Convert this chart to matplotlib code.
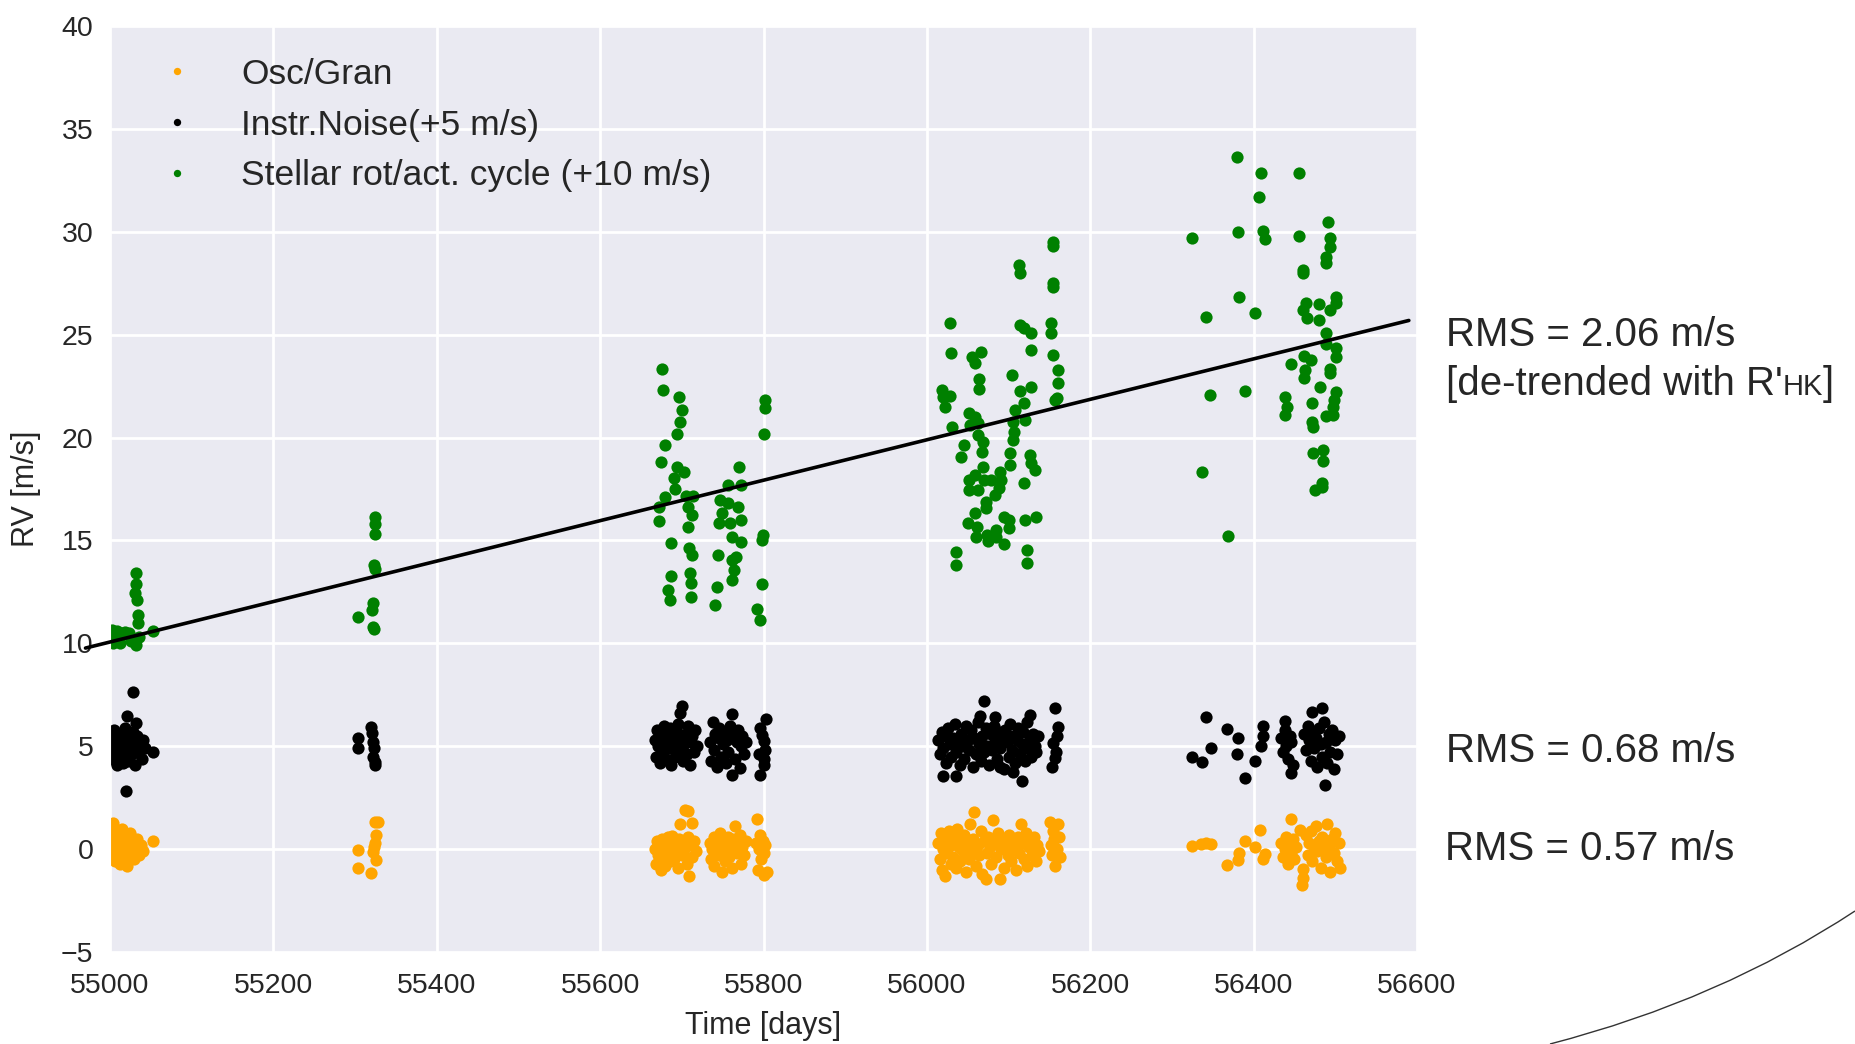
#!/usr/bin/env python3
"""RV noise budget: oscillation/granulation, instrument noise and stellar activity."""

import matplotlib
matplotlib.use('Agg')
import matplotlib.pyplot as plt
import seaborn as sns
from matplotlib.path import Path
from matplotlib.patches import PathPatch

# ---- data (times in days, RV in m/s, offsets added at plot time) ----
NOISE_OFFSET = 5.0
ACT_OFFSET = 10.0

osc_t = [
    # 2009
    55002, 55003, 55004, 55005, 55006, 55007, 55008, 55010, 55011, 55012,
    55014, 55015, 55017, 55018, 55019, 55021, 55022, 55024, 55025, 55027,
    55029, 55031, 55033, 55035, 55038, 55041, 55053,
    # 2010
    55304, 55304, 55319, 55322, 55323, 55324, 55325, 55326, 55326, 55328,
    # 2011
    55667, 55668, 55670, 55671, 55673, 55674, 55676, 55677, 55679, 55680,
    55682, 55683, 55685, 55686, 55688, 55689, 55691, 55692, 55694, 55695,
    55697, 55698, 55700, 55701, 55703, 55704, 55706, 55707, 55708, 55709,
    55711, 55712, 55713, 55715, 55717,
    55734, 55736, 55737, 55739, 55740, 55742, 55744, 55745, 55747, 55748,
    55749, 55751, 55753, 55754, 55756, 55758, 55759, 55761, 55762, 55764,
    55765, 55767, 55769, 55771, 55772, 55774, 55776, 55778,
    55791, 55792, 55793, 55795, 55796, 55797, 55799, 55800, 55801, 55802, 55804,
    # 2012
    56014, 56016, 56017, 56019, 56020, 56022, 56024, 56025, 56027, 56029,
    56030, 56032, 56034, 56036, 56037, 56039, 56041, 56042, 56044, 56046,
    56048, 56050, 56051, 56053, 56055, 56057, 56058, 56060, 56062, 56064,
    56066, 56068, 56070, 56072, 56074, 56075, 56077, 56079, 56081, 56083,
    56085, 56087, 56089, 56091, 56093, 56095, 56097, 56099, 56101, 56103,
    56105, 56107, 56109, 56111, 56113, 56115, 56117, 56119, 56121, 56123,
    56125, 56127, 56129, 56131, 56133, 56135, 56137,
    56151, 56152, 56153, 56155, 56156, 56157, 56159, 56160, 56162, 56163,
    # 2013
    56324, 56336, 56342, 56348, 56368, 56381, 56382, 56390, 56402, 56408,
    56411, 56414, 56446, 56457, 56461, 56461, 56459,
    56434, 56436, 56438, 56440, 56442, 56444, 56446, 56448, 56450, 56452,
    56464, 56466, 56468, 56470, 56472, 56474, 56476, 56478, 56480, 56482,
    56484, 56486, 56488, 56490, 56492, 56494, 56496, 56498, 56500, 56502,
    56504, 56506,
]
osc_rv = [
    0.6, -0.2, 1.25, 0.3, -0.6, 0.9, 0.1, -0.3, 0.5, -0.7,
    0.2, 1.0, -0.4, 0.6, 0.0, -0.8, 0.3, 0.8, -0.2, 0.4,
    -0.5, 0.1, 0.5, -0.3, 0.2, -0.1, 0.4,
    -0.05, -0.9, -1.15, -0.15, 0.1, 0.3, 1.3, 0.7, -0.55, 1.3,
    0.0, -0.7, 0.4, -0.3, 0.2, -1.0, 0.5, -0.4, 0.1, -0.8,
    0.3, 0.6, -0.2, -0.6, 0.65, 0.0, -0.5, 0.4, 0.2, -0.9,
    0.5, 1.2, -0.3, 0.3, 0.0, 1.9, -0.7, 0.6, 1.85, -1.3,
    0.2, -0.4, 1.25, 0.4, -0.1,
    0.3, -0.5, 0.0, 0.6, -0.8, 0.2, -0.3, 0.5, 0.8, -0.1,
    -1.1, 0.3, -0.6, 0.1, 0.6, -0.4, 0.4, -0.9, 0.0, 0.5,
    1.1, -0.2, 0.3, 0.7, -0.7, 0.1, -0.3, 0.4,
    0.3, 1.45, -1.0, 0.0, 0.7, -0.5, 0.4, -0.2, -1.25, 0.2, -1.1,
    0.3, -0.5, 0.8, -1.0, 0.0, -1.3, 0.5, -0.2, 0.9, -0.7,
    0.2, -0.4, 0.6, -0.9, 1.0, 0.1, -0.6, 0.4, -0.1, 0.7,
    -1.1, 0.3, -0.5, 1.2, 0.0, 0.5, 1.8, -0.8, 0.2, -0.3,
    0.9, -1.2, 0.4, -1.45, -0.2, 0.6, 0.1, -0.7, 1.4, 0.3,
    -0.4, 0.8, -1.45, 0.0, 0.5, -0.9, 0.2, -0.3, 0.7, -0.6,
    0.4, 0.0, -1.0, 0.6, -0.2, 1.2, 0.3, -0.5, 0.8, -0.8,
    0.1, 0.5, -0.3, 0.6, -0.6, 0.2, -0.1,
    1.3, 0.2, -0.3, 0.9, 0.5, -0.8, 0.0, 1.2, 0.6, -0.4,
    0.16, 0.24, 0.32, 0.27, -0.78, -0.54, -0.21, 0.4, 0.08, 0.92,
    -0.49, -0.25, 1.46, 0.92, -0.98, -1.38, -1.74,
    0.3, -0.4, 0.0, 0.6, -0.7, 0.2, -0.2, 0.5, -0.5, 0.1,
    0.7, -0.3, 0.3, 0.9, -0.6, 0.1, 1.1, -0.1, 0.4, -0.9,
    0.6, 0.0, -0.4, 1.2, 0.2, -1.1, 0.5, -0.2, 0.8, -0.6,
    0.3, -0.9,
]

noise_t = [
    55002, 55003, 55004, 55005, 55006, 55008, 55009, 55010, 55012, 55013,
    55015, 55016, 55018, 55019, 55021, 55022, 55024, 55025, 55027, 55028,
    55030, 55031, 55033, 55035, 55037, 55039, 55041, 55043,
    55028, 55021, 55032, 55053, 55020,
    55304, 55304, 55320, 55321, 55322, 55323, 55322, 55324, 55325,
    55667, 55668, 55670, 55671, 55673, 55675, 55676, 55678, 55679, 55681,
    55682, 55684, 55686, 55687, 55689, 55690, 55692, 55694, 55695, 55697,
    55698, 55700, 55700, 55702, 55703, 55705, 55706, 55708, 55710, 55711,
    55713, 55715, 55716, 55718,
    55734, 55736, 55738, 55739, 55741, 55743, 55745, 55746, 55748, 55750,
    55752, 55754, 55755, 55757, 55759, 55761, 55761, 55763, 55765, 55767,
    55769, 55771, 55772, 55774, 55776, 55778,
    55803, 55796, 55800, 55802, 55794, 55800, 55796, 55798, 55801,
    56014, 56016, 56018, 56020, 56022, 56024, 56026, 56028, 56030, 56032,
    56034, 56036, 56038, 56040, 56042, 56044, 56046, 56048, 56050, 56052,
    56054, 56056, 56058, 56060, 56062, 56064, 56066, 56068, 56070, 56072,
    56074, 56076, 56078, 56080, 56082, 56084, 56086, 56088, 56090, 56092,
    56094, 56096, 56098, 56100, 56102, 56104, 56106, 56108, 56110, 56112,
    56114, 56116, 56118, 56120, 56122, 56124, 56126, 56128, 56130, 56132,
    56134, 56136,
    56070, 56126, 56020, 56036, 56117, 56090, 56105, 56084, 56065,
    56157, 56161, 56159, 56155, 56158, 56157, 56153,
    56342, 56368, 56381, 56348, 56324, 56337, 56380, 56402, 56390, 56412,
    56412, 56409, 56438, 56446, 56471, 56484, 56487,
    56434, 56436, 56438, 56440, 56442, 56444, 56446, 56448, 56462, 56464,
    56466, 56468, 56470, 56472, 56474, 56476, 56478, 56480, 56482, 56484,
    56486, 56488, 56490, 56492, 56494, 56496, 56498, 56500, 56502, 56504,
]
noise_rv = [
    0.5, -0.6, 0.1, 0.8, -0.3, 0.4, -0.9, 0.0, 0.6, -0.5,
    0.2, -0.8, 0.9, -0.2, 0.3, -0.7, 0.5, 0.0, -0.4, 0.7,
    -0.9, 0.2, 0.5, -0.3, 0.1, -0.6, 0.3, -0.1,
    2.65, 1.47, 1.12, -0.26, -2.2,
    0.4, -0.1, 0.94, 0.65, 0.2, -0.1, -0.5, -0.75, -0.9,
    0.3, -0.5, 0.8, 0.0, -0.8, 0.5, -0.3, 1.0, 0.2, -0.6,
    0.6, -0.1, 0.9, -0.9, 0.3, 0.0, -0.5, 0.7, 1.1, -0.2,
    1.6, 1.94, 0.4, -0.7, 0.1, 0.6, -0.4, 1.0, -0.9, 0.2,
    0.5, -0.3, 0.8, 0.0,
    0.2, -0.7, 1.2, -0.2, 0.6, -1.0, 0.4, 0.9, -0.5, 0.1,
    0.7, -0.8, 0.3, -0.3, 1.0, 1.55, -1.4, 0.5, -0.6, 0.2,
    0.8, -1.05, 0.0, 0.5, -0.4, 0.2,
    1.3, 0.89, 0.24, -0.16, -0.4, -0.89, -1.38, 0.55, -0.6,
    0.3, -0.4, 0.7, -0.1, 0.5, -0.8, 0.9, 0.1, -0.5, 0.4,
    1.1, -0.3, 0.2, -0.9, 0.6, 0.0, -0.6, 1.0, 0.3, -0.2,
    0.8, -1.0, 0.4, -0.4, 1.2, 0.1, -0.7, 0.5, -0.3, 0.9,
    0.0, -0.9, 0.6, -0.2, 1.0, 0.3, -0.6, 0.7, -0.1, 0.4,
    -1.1, 0.8, 0.2, -0.5, 1.1, -0.2, 0.5, -0.8, 0.3, 0.9,
    -0.4, 0.1, 0.7, -0.7, 1.2, -0.1, 0.4, -0.5, 0.6, 0.0,
    -0.3, 0.5,
    2.21, 1.53, -1.44, -1.44, -1.68, -1.0, -1.23, 1.4, 1.48,
    1.88, 0.91, 0.5, 0.18, -0.3, -0.55, -1.03,
    1.43, 0.83, 0.38, -0.1, -0.52, -0.79, -0.39, -0.74, -1.55, 0.99,
    0.5, 0.02, 1.23, -1.28, 1.64, 1.88, -1.88,
    0.4, -0.3, 0.8, 0.0, -0.6, 0.5, 0.2, -0.9, 0.6, -0.2,
    1.0, 0.3, -0.7, 0.7, -0.1, 0.4, -1.0, 0.9, 0.1, -0.5,
    1.2, 0.2, -0.8, 0.6, -0.3, 0.8, -1.1, 0.3, -0.4, 0.5,
]

act_t = [
    55032, 55032, 55030, 55033, 55034, 55034, 55053, 55002, 55007, 55012,
    55004, 55018, 55023, 55027, 55032, 55015, 55026, 55036, 55009,
    55325, 55325, 55324, 55323, 55324, 55322, 55321, 55304, 55322, 55323,
    55676, 55677, 55696, 55700, 55698, 55694, 55679, 55674, 55694, 55703,
    55690, 55692, 55679, 55672, 55672, 55705, 55714, 55707, 55713, 55708,
    55687, 55709, 55712, 55687, 55710, 55711, 55683, 55685, 55711, 55756,
    55747, 55757, 55749, 55745, 55759, 55769, 55770, 55772, 55773, 55761,
    55773, 55744, 55766, 55761, 55764, 55762, 55743, 55741, 55802, 55802,
    55800, 55799, 55798, 55798, 55792, 55796,
    56028, 56029, 56018, 56020, 56028, 56022, 56031, 56055, 56066, 56059,
    56064, 56064, 56051, 56059, 56053, 56063, 56063, 56069, 56045, 56042,
    56068, 56051, 56059, 56069, 56070, 56051, 56062, 56079, 56090, 56091,
    56088, 56083, 56072, 56072, 56059, 56050, 56061, 56060, 56073, 56075,
    56085, 56085, 56094, 56101, 56100, 56095, 56102, 56102, 56106, 56107,
    56105, 56108, 56114, 56119, 56120, 56104, 56114, 56119, 56128, 56128,
    56128, 56126, 56128, 56132, 56119, 56120, 56133, 56122, 56123, 56036,
    56036, 56152, 56152, 56155, 56160, 56160, 56159, 56157, 56113, 56114,
    56154, 56155, 56154, 56155,
    56380, 56409, 56455, 56407, 56324, 56381, 56411, 56414, 56456, 56491,
    56493, 56493, 56489, 56489, 56460, 56460, 56382, 56342, 56402, 56464,
    56460, 56465, 56480, 56480, 56493, 56501, 56501, 56489, 56489, 56501,
    56501, 56462, 56470, 56446, 56463, 56462, 56493, 56493, 56347, 56390,
    56438, 56441, 56439, 56471, 56481, 56501, 56499, 56497, 56497, 56488,
    56472, 56473, 56473, 56485, 56485, 56475, 56484, 56484, 56337, 56369,
]
act_rv = [
    3.4, 2.9, 2.45, 2.1, 1.4, 1.0, 0.6, 0.65, 0.35, 0.0,
    0.0, 0.55, 0.5, 0.15, -0.1, 0.5, 0.1, 0.3, 0.6,
    6.15, 5.8, 5.3, 3.8, 3.6, 1.95, 1.6, 1.26, 0.8, 0.7,
    13.32, 12.31, 11.99, 11.34, 10.77, 10.17, 9.64, 8.83, 8.59, 8.34,
    8.02, 7.48, 7.13, 6.64, 5.96, 7.16, 7.16, 6.64, 6.24, 5.67,
    4.89, 4.62, 4.29, 3.27, 3.4, 2.92, 2.59, 2.11, 2.27, 7.69,
    6.97, 6.8, 6.32, 5.83, 5.83, 6.64, 8.59, 7.69, 5.99, 5.18,
    4.94, 4.29, 4.21, 4.05, 3.56, 3.08, 2.75, 1.86, 11.83, 11.42,
    10.17, 5.26, 5.02, 2.88, 1.65, 1.13,
    15.55, 14.09, 12.31, 11.99, 12.02, 11.5, 10.5, 13.93, 14.17, 13.61,
    12.83, 12.34, 11.18, 11.01, 10.61, 10.69, 10.12, 9.8, 9.64, 9.07,
    9.31, 7.94, 8.18, 8.58, 7.94, 7.45, 7.45, 7.94, 8.34, 7.94,
    7.53, 7.21, 6.88, 6.56, 6.32, 5.86, 5.64, 5.18, 5.26, 4.99,
    5.51, 5.18, 6.15, 5.99, 5.59, 4.83, 8.67, 9.23, 9.88, 10.29,
    10.77, 11.34, 12.28, 11.66, 10.85, 13.04, 15.47, 15.31, 15.06, 14.25,
    12.47, 9.15, 8.75, 8.42, 7.77, 5.99, 6.15, 4.53, 3.89, 4.45,
    3.8, 15.55, 15.06, 14.01, 13.28, 12.67, 11.9, 11.82, 18.4, 18.0,
    19.5, 19.3, 17.5, 17.3,
    23.65, 22.84, 22.84, 21.71, 19.68, 20.0, 20.05, 19.63, 19.79, 20.49,
    19.68, 19.28, 18.76, 18.5, 18.14, 18.01, 16.85, 15.87, 16.07, 16.52,
    16.2, 15.79, 16.49, 15.71, 16.2, 16.85, 16.52, 15.06, 14.55, 14.33,
    13.93, 13.96, 13.77, 13.57, 13.28, 12.88, 13.31, 13.12, 12.07, 12.28,
    11.99, 11.5, 11.1, 11.66, 12.44, 12.23, 11.82, 11.5, 11.1, 11.05,
    10.77, 10.5, 9.23, 9.39, 8.88, 7.45, 7.77, 7.58, 8.34, 5.22,
]

# linear activity trend (R'HK de-trending), end points in days / m/s
trend_t = [54970, 56590]
trend_rv = [-0.23, 15.69]

rms_labels = ["RMS = 2.06 m/s", "RMS = 0.68 m/s", "RMS = 0.57 m/s"]

# ---- figure ----
sns.set_style('darkgrid')
plt.rcParams['font.family'] = ['Liberation Sans', 'DejaVu Sans']

W, H = 1855, 1044
fig = plt.figure(figsize=(W / 100, H / 100), dpi=100)
ax = fig.add_axes([110 / W, 1 - 952 / H, 1307 / W, 926 / H])

dot = dict(marker='o', linestyle='none', markersize=8.8, markeredgewidth=0)
ax.plot(osc_t, osc_rv, color='orange', label='Osc/Gran', **dot)
ax.plot(noise_t, [v + NOISE_OFFSET for v in noise_rv], color='black',
        label='Instr.Noise(+5 m/s)', **dot)
ax.plot(act_t, [v + ACT_OFFSET for v in act_rv], color='green',
        label='Stellar rot/act. cycle (+10 m/s)', **dot)
ax.plot(trend_t, [v + ACT_OFFSET for v in trend_rv], color='black',
        linewidth=2.6, clip_on=False, zorder=5)

ax.set_xlim(55000, 56600)
ax.set_ylim(-5, 40)
ax.set_xticks(range(55000, 56601, 200))
ax.set_yticks(range(-5, 41, 5))
ax.grid(True, color='white', linewidth=2)
ax.tick_params(labelsize=20.5, labelcolor='#262626', length=0)
ax.tick_params(axis='x', pad=15)
ax.tick_params(axis='y', pad=12)
ax.set_xlabel('Time [days]', fontsize=22, color='#262626', labelpad=9)
ax.set_ylabel('RV [m/s]', fontsize=22, color='#262626', labelpad=14)

ax.legend(loc='upper left', fontsize=25.5, markerscale=0.6, numpoints=1,
          frameon=False, labelspacing=0.5)

# RMS annotations to the right of the axes
def ftext(x, y, s, **kw):
    return fig.text(x / W, 1 - y / H, s, va='baseline', ha='left', **kw)

ftext(1446, 346, rms_labels[0], fontsize=29)
t1 = ftext(1446, 395, "[de-trended with R'", fontsize=29)
ftext(1446, 762, rms_labels[1], fontsize=29)
ftext(1445, 860, rms_labels[2], fontsize=29)

fig.canvas.draw()
r = fig.canvas.get_renderer()
x_end = t1.get_window_extent(r).x1
t2 = fig.text(x_end / W, 1 - 395 / H, 'HK', fontsize=21, va='baseline', ha='left')
fig.canvas.draw()
x_end = t2.get_window_extent(r).x1
fig.text(x_end / W, 1 - 395 / H, ']', fontsize=29, va='baseline', ha='left')

# thin curved rule in the lower right corner
arc = Path([(1855 / W, 133 / H), (1720 / W, 44 / H), (1550 / W, 0)],
           [Path.MOVETO, Path.CURVE3, Path.CURVE3])
fig.add_artist(PathPatch(arc, transform=fig.transFigure, fill=False,
                         edgecolor='#333333', linewidth=1.0))

fig.savefig('out.png', dpi=100)
